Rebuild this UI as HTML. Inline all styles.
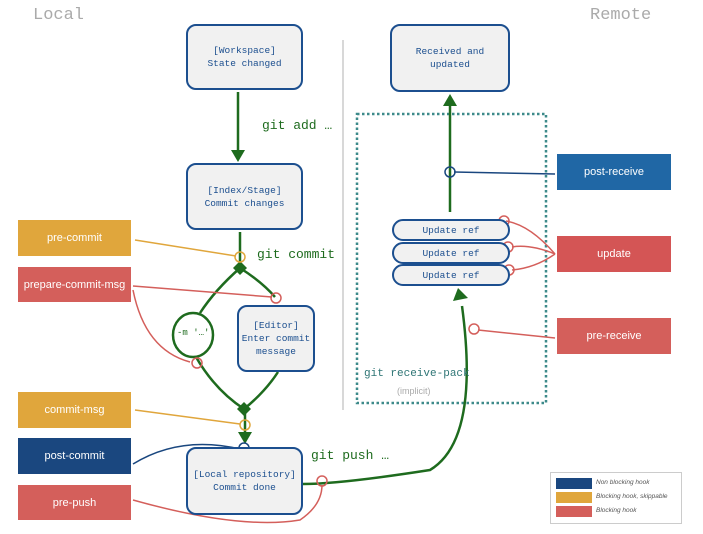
<!DOCTYPE html>
<html><head><style>
body{margin:0;background:#fff;width:703px;height:534px;overflow:hidden;position:relative;font-family:"Liberation Mono",monospace}
.b{position:absolute;box-sizing:border-box;border:2px solid #1c4f8f;border-radius:10px;background:#f1f1f1;color:#1c4f8f;font-size:9.5px;text-align:center;display:flex;align-items:center;justify-content:center;line-height:13px}
.h{position:absolute;color:#fff;font-family:"Liberation Sans",sans-serif;font-size:11px;display:flex;align-items:center;justify-content:center}
.t{position:absolute;white-space:nowrap}
</style></head><body>
<div class="t" style="left:33px;top:6px;font-size:17px;color:#aaa">Local</div>
<div class="t" style="left:590px;top:6px;font-size:17px;color:#aaa">Remote</div>
<svg width="703" height="534" style="position:absolute;left:0;top:0">
<line x1="343" y1="40" x2="343" y2="410" stroke="#ccc" stroke-width="1.5"/>
<rect x="357" y="114" width="189" height="289" fill="none" stroke="#3d8a8a" stroke-width="2.5" stroke-dasharray="2.5,2.5"/>
<g stroke="#1e6b1e" stroke-width="2.5" fill="none">
<line x1="238" y1="92" x2="238" y2="150"/>
<line x1="240" y1="232" x2="240" y2="268"/>
<path d="M240 268 Q215 290 200 313"/>
<path d="M240 268 Q262 282 275 297"/>
<path d="M196 357 Q215 390 244 409"/>
<path d="M278 372 Q265 392 244 409"/>
<line x1="245" y1="409" x2="245" y2="432"/>
<path d="M303 484 Q340 484 430 470 Q480 440 462 306"/>
<line x1="450" y1="212" x2="450" y2="106"/>
</g>
<ellipse cx="193" cy="335" rx="20" ry="22" fill="#fff" stroke="#1e6b1e" stroke-width="2.5"/>
<g fill="#1e6b1e">
<polygon points="231,150 245,150 238,162"/>
<polygon points="240,261 247,268 240,275 233,268"/>
<polygon points="244,402 251,409 244,416 237,409"/>
<polygon points="238,432 252,432 245,444"/>
<polygon points="443,106 457,106 450,94"/>
<polygon points="453,301 468,298 458,288"/>
</g>
<g fill="none" stroke-width="1.5">
<path d="M135 240 L236 256" stroke="#e0a63c"/>
<path d="M135 410 L240 424" stroke="#e0a63c"/>
<path d="M133 286 L272 297" stroke="#d45f5b"/>
<path d="M133 290 Q145 350 190 362" stroke="#d45f5b"/>
<path d="M133 464 Q180 435 240 449" stroke="#1a477f"/>
<path d="M133 500 Q240 530 300 520 Q322 505 322 485" stroke="#d45f5b"/>
<path d="M454 172 L555 174" stroke="#1a477f"/>
<path d="M506 221 Q530 225 555 254" stroke="#d45f5b"/>
<path d="M512 247 Q530 244 555 254" stroke="#d45f5b"/>
<path d="M512 270 Q535 268 555 254" stroke="#d45f5b"/>
<path d="M478 330 L555 338" stroke="#d45f5b"/>
</g>
<g fill="none" stroke-width="1.5">
<circle cx="240" cy="257" r="5" stroke="#e0a63c"/>
<circle cx="245" cy="425" r="5" stroke="#e0a63c"/>
<circle cx="276" cy="298" r="5" stroke="#d45f5b"/>
<circle cx="197" cy="363" r="5" stroke="#d45f5b"/>
<circle cx="244" cy="448" r="5" stroke="#1a477f"/>
<circle cx="322" cy="481" r="5" stroke="#d45f5b"/>
<circle cx="450" cy="172" r="5" stroke="#1a477f"/>
<circle cx="504" cy="221" r="5" stroke="#d45f5b"/>
<circle cx="508" cy="247" r="5" stroke="#d45f5b"/>
<circle cx="509" cy="270" r="5" stroke="#d45f5b"/>
<circle cx="474" cy="329" r="5" stroke="#d45f5b"/>
</g>
</svg>
<div class="t" style="left:177px;top:328px;font-size:9px;color:#1e6b1e">-m '…'</div>
<div class="b" style="left:186px;top:24px;width:117px;height:66px">[Workspace]<br>State changed</div>
<div class="b" style="left:390px;top:24px;width:120px;height:68px">Received and<br>updated</div>
<div class="b" style="left:186px;top:163px;width:117px;height:67px">[Index/Stage]<br>Commit changes</div>
<div class="b" style="left:237px;top:305px;width:78px;height:67px">[Editor]<br>Enter commit<br>message</div>
<div class="b" style="left:186px;top:447px;width:117px;height:68px">[Local repository]<br>Commit done</div>
<div class="b" style="left:392px;top:219px;width:118px;height:22px;border-radius:11px">Update ref</div>
<div class="b" style="left:392px;top:242px;width:118px;height:22px;border-radius:11px">Update ref</div>
<div class="b" style="left:392px;top:264px;width:118px;height:22px;border-radius:11px">Update ref</div>
<div class="t" style="left:262px;top:118px;font-size:13px;color:#1e6b1e">git add …</div>
<div class="t" style="left:257px;top:247px;font-size:13px;color:#1e6b1e">git commit</div>
<div class="t" style="left:311px;top:448px;font-size:13px;color:#1e6b1e">git push …</div>
<div class="t" style="left:364px;top:368px;font-size:11px;color:#2e7575">git receive-pack</div>
<div class="t" style="left:397px;top:386px;font-size:9px;color:#aaa;font-family:'Liberation Sans',sans-serif">(implicit)</div>
<div class="h" style="left:18px;top:220px;width:113px;height:36px;background:#e0a63c">pre-commit</div>
<div class="h" style="left:18px;top:267px;width:113px;height:35px;background:#d45f5b">prepare-commit-msg</div>
<div class="h" style="left:18px;top:392px;width:113px;height:36px;background:#e0a63c">commit-msg</div>
<div class="h" style="left:18px;top:438px;width:113px;height:36px;background:#1a477f">post-commit</div>
<div class="h" style="left:18px;top:485px;width:113px;height:35px;background:#d45f5b">pre-push</div>
<div class="h" style="left:557px;top:154px;width:114px;height:36px;background:#2067a5">post-receive</div>
<div class="h" style="left:557px;top:236px;width:114px;height:36px;background:#d45555">update</div>
<div class="h" style="left:557px;top:318px;width:114px;height:36px;background:#d45f5b">pre-receive</div>
<div style="position:absolute;left:550px;top:472px;width:130px;height:50px;border:1px solid #ccc;font-family:'Liberation Sans',sans-serif;font-size:6.5px;font-style:italic;color:#555">
<div style="position:absolute;left:5px;top:5px;width:36px;height:11px;background:#1a477f"></div><div class="t" style="left:45px;top:6px">Non blocking hook</div>
<div style="position:absolute;left:5px;top:19px;width:36px;height:11px;background:#e0a63c"></div><div class="t" style="left:45px;top:20px">Blocking hook, skippable</div>
<div style="position:absolute;left:5px;top:33px;width:36px;height:11px;background:#d45f5b"></div><div class="t" style="left:45px;top:34px">Blocking hook</div>
</div>
</body></html>
